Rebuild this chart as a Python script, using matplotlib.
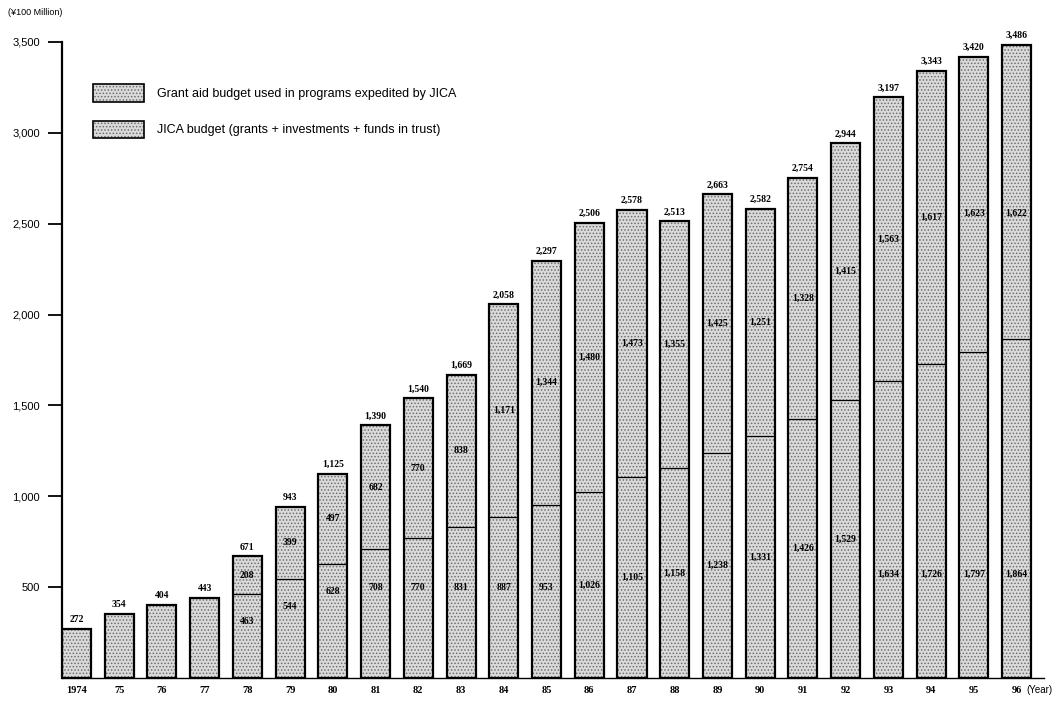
import numpy as np
import matplotlib
matplotlib.use("Agg")
import matplotlib.pyplot as plt
from matplotlib.patches import Patch

# JICA budget and grant aid, unit: 100 million yen
years = ['1974', '75', '76', '77', '78', '79', '80', '81', '82', '83', '84', '85',
         '86', '87', '88', '89', '90', '91', '92', '93', '94', '95', '96']
jica = [272, 354, 404, 443, 463, 544, 628, 708, 770, 831, 887, 953,
        1026, 1105, 1158, 1238, 1331, 1426, 1529, 1634, 1726, 1797, 1864]
grant = [0, 0, 0, 0, 208, 399, 497, 682, 770, 838, 1171, 1344,
         1480, 1473, 1355, 1425, 1251, 1328, 1415, 1563, 1617, 1623, 1622]
legend_labels = ['Grant aid budget used in programs expedited by JICA',
                 'JICA budget (grants + investments + funds in trust)']

jica = np.array(jica)
grant = np.array(grant)
total = jica + grant
x = np.arange(len(years))

plt.rcParams['hatch.linewidth'] = 0.7
fig = plt.figure(figsize=(10.56, 7.02), dpi=100)
ax = fig.add_axes([0.059, 0.034, 0.93, 0.958])

w = 0.68
face = '#dadada'
dots = '#6e6e6e'
# stippled fill first, then black outlines on top
ax.bar(x, jica, w, color=face, hatch='.....', edgecolor=dots, linewidth=0)
ax.bar(x, grant, w, bottom=jica, color=face, hatch='.....', edgecolor=dots, linewidth=0)
ax.bar(x, total, w, fill=False, edgecolor='black', linewidth=1.6)
has_grant = grant > 0
ax.hlines(jica[has_grant], x[has_grant] - w / 2, x[has_grant] + w / 2, color='black', lw=0.9)

serif = dict(family='Liberation Serif', fontweight='bold', fontsize=7)
for i in range(len(x)):
    ax.text(x[i], total[i] + 25, f'{total[i]:,}', ha='center', va='bottom', **serif)
    if grant[i] > 0:
        yb = min(max(jica[i] / 2, 500), jica[i] - 150)
        if jica[i] / 2 > 800:
            yb = 570
        ax.text(x[i], yb, f'{jica[i]:,}', ha='center', va='center', **serif)
        yt = min(jica[i] + grant[i] / 2, 2560)
        ax.text(x[i], yt, f'{grant[i]:,}', ha='center', va='center', **serif)

ax.set_xlim(-0.33, 22.65)
ax.set_ylim(0, 3700)
ax.spines['top'].set_visible(False)
ax.spines['right'].set_visible(False)
ax.spines['left'].set_bounds(0, 3500)
ax.spines['left'].set_linewidth(1.6)
ax.spines['bottom'].set_linewidth(1.0)

ax.set_yticks([500, 1000, 1500, 2000, 2500, 3000, 3500])
ax.set_yticklabels(['500', '1,000', '1,500', '2,000', '2,500', '3,000', '3,500'],
                   family='Liberation Sans', fontsize=8)
ax.tick_params(axis='y', direction='out', length=10, width=1.3, pad=6)
ax.set_xticks(x)
ax.set_xticklabels(years, family='Liberation Serif', fontweight='bold', fontsize=7.5)
ax.tick_params(axis='x', length=0, pad=6)

fig.text(0.008, 0.982, '(¥100 Million)', family='Liberation Sans', fontsize=6.5,
         ha='left', va='center')
fig.text(0.997, 0.017, '(Year)', family='Liberation Sans', fontsize=7,
         ha='right', va='center')

handles = [Patch(facecolor=face, edgecolor=dots, hatch='.....', linewidth=0),
           Patch(facecolor=face, edgecolor=dots, hatch='.....', linewidth=0)]
handles = [(h, Patch(fill=False, edgecolor='black', linewidth=1.2)) for h in handles]
ax.legend(handles, legend_labels, loc='upper left', bbox_to_anchor=(0.02, 0.9),
          frameon=False, handlelength=4.1, handleheight=1.8, labelspacing=1.5,
          handletextpad=1.0, prop=dict(family='Liberation Sans', size=9))

fig.savefig('out.png', dpi=100)
